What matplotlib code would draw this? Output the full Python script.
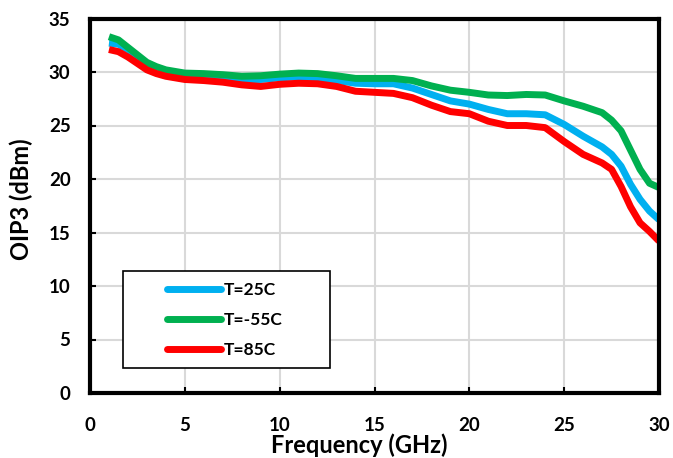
import matplotlib
matplotlib.use("Agg")
import matplotlib.pyplot as plt
from matplotlib.patches import Rectangle
import numpy as np

plt.rcParams['font.family'] = ['Lato', 'DejaVu Sans']
plt.rcParams['font.weight'] = 'bold'

freq = [1, 1.5, 2, 2.5, 3, 3.5, 4, 5, 6, 7, 8, 9, 10, 11, 12, 13, 14, 15, 16, 17, 18,
        19, 20, 21, 22, 23, 24, 25, 26, 27, 27.5, 28, 28.5, 29, 29.5, 30]

t25 = [32.7, 32.6, 32.1, 31.4, 30.8, 30.4, 30.0, 29.7, 29.55, 29.45, 29.3, 29.3, 29.45,
       29.55, 29.45, 29.2, 28.95, 28.9, 28.9, 28.5, 27.9, 27.3, 27.0, 26.5, 26.1, 26.1,
       26.0, 25.1, 24.0, 23.0, 22.3, 21.2, 19.5, 18.1, 17.0, 16.2]
tm55 = [33.3, 33.0, 32.3, 31.6, 30.9, 30.5, 30.2, 29.9, 29.85, 29.75, 29.6, 29.65, 29.8,
        29.9, 29.85, 29.65, 29.4, 29.4, 29.4, 29.2, 28.7, 28.3, 28.1, 27.85, 27.8, 27.9,
        27.85, 27.3, 26.8, 26.2, 25.5, 24.5, 22.7, 20.9, 19.6, 19.2]
t85 = [32.1, 31.9, 31.4, 30.8, 30.2, 29.85, 29.6, 29.3, 29.2, 29.05, 28.8, 28.65, 28.85,
       28.95, 28.9, 28.65, 28.2, 28.1, 28.0, 27.6, 26.9, 26.3, 26.1, 25.4, 25.0, 25.0,
       24.8, 23.5, 22.3, 21.5, 20.9, 19.3, 17.4, 15.9, 15.1, 14.2]

labels = ['T=25C', 'T=-55C', 'T=85C']
colors = ['#00B0F0', '#00B050', '#FF0000']

W, H = 569.0, 374.5
fig = plt.figure(figsize=(6.73, 4.58), dpi=100)
ax = fig.add_axes([90/673, 65/458, W/673, H/458])

for y, lab, c in zip([t25, tm55, t85], labels, colors):
    ax.plot(freq, y, color=c, lw=5, label=lab, solid_capstyle='butt', solid_joinstyle='round')

ax.set_xlim(0, 30)
ax.set_ylim(0, 35)
ax.set_xticks(np.arange(0, 31, 5))
ax.set_yticks(np.arange(0, 36, 5))
ax.grid(True, color='#D9D9D9', lw=1.5)
ax.set_axisbelow(True)
for s in ax.spines.values():
    s.set_linewidth(3)
    s.set_color('black')
ax.tick_params(direction='in', length=4, width=1.5, labelsize=13.5)
ax.tick_params(axis='x', pad=17)
ax.tick_params(axis='y', pad=14)
for t in ax.get_xticklabels() + ax.get_yticklabels():
    t.set_fontweight('bold')

ax.set_xlabel('Frequency (GHz)', fontsize=17, fontweight='bold')
ax.xaxis.set_label_coords(269/W, -40/H)
ax.set_ylabel('OIP3 (dBm)', fontsize=17, fontweight='bold')
ax.yaxis.set_label_coords(-57/W, 0.517)

# legend frame
ax.add_patch(Rectangle((33/W, 25/H), 207/W, 97/H, transform=ax.transAxes,
                       facecolor='white', edgecolor='black', lw=1.2, zorder=5))
leg = ax.legend(loc='center left', bbox_to_anchor=(77/W, 73/H),
                frameon=False, handlelength=3.1, handletextpad=0.15,
                labelspacing=0.82, borderaxespad=0, borderpad=0,
                prop={'weight': 'bold', 'size': 12.5})
leg.set_zorder(6)
for line in leg.get_lines():
    line.set_linewidth(5)
    line.set_solid_capstyle('round')

fig.savefig('out.png', dpi=100)
